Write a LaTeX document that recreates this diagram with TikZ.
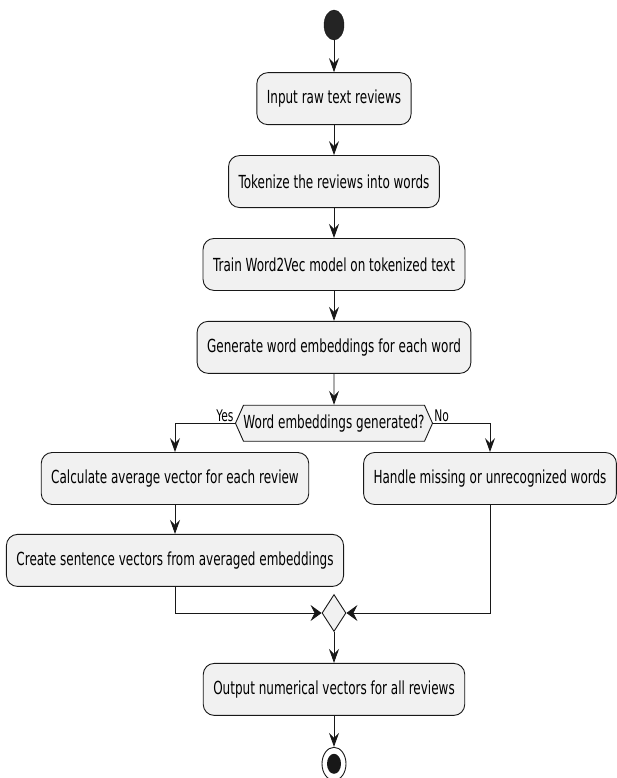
\documentclass[tikz,border=0pt]{standalone}
\usepackage{fontspec}
\setmainfont{DejaVu Sans}[FakeStretch=0.667]
\usetikzlibrary{arrows.meta,positioning,shapes.geometric,shapes.symbols}

\definecolor{actfill}{HTML}{F1F1F1}
\definecolor{actline}{HTML}{181818}

\begin{document}
\begin{tikzpicture}[
  x=1pt, y=1pt,
  font=\fontsize{18}{20}\selectfont,
  node distance=30pt,
  box/.style={draw=actline, fill=actfill, line width=0.9pt, rounded corners=11pt, align=center, inner xsep=10pt, minimum height=52pt},
  decision/.style={draw=actline, fill=actfill, line width=0.9pt, signal, signal to=west and east, signal pointer angle=132, inner xsep=0pt, inner ysep=0pt, minimum height=36pt},
  merge/.style={draw=actline, fill=actfill, line width=0.9pt, diamond, inner sep=0pt, minimum width=24pt, minimum height=37pt},
  startdot/.style={ellipse, fill=actline!95, draw=actline, inner sep=0pt, minimum width=20pt, minimum height=30pt},
  enddot/.style={ellipse, fill=white, draw=actline, line width=0.9pt, inner sep=0pt, minimum width=24pt, minimum height=33pt},
  label/.style={font=\fontsize{16}{18}\selectfont, inner sep=1pt},
  arrow/.style={-{Stealth[length=14pt, width=10pt, inset=5pt]}, line width=0.9pt, draw=actline},
  harrow/.style={-{Stealth[length=11pt, width=16pt, inset=4pt]}, line width=0.9pt, draw=actline}
]
\useasboundingbox (0,0) rectangle (616,-778);

% Main column
\node[startdot] (start) at (334,-25) {};
\node[box, below=32pt of start] (input) {Input raw text reviews};
\node[box, below=of input] (tokenize) {Tokenize the reviews into words};
\node[box, below=of tokenize] (train) {Train Word2Vec model on tokenized text};
\node[box, below=of train] (generate) {Generate word embeddings for each word};
\node[decision, below=31pt of generate] (check) {Word embeddings generated?};

% Branches
\node[box] (average) at (175,-478.5) {Calculate average vector for each review};
\node[box, below=29pt of average] (sentence) {Create sentence vectors from averaged embeddings};
\node[box] (handle) at (490,-478.5) {Handle missing or unrecognized words};

\node[merge] (join) at (334,-613) {};
\node[box, below=31pt of join] (output) {Output numerical vectors for all reviews};
\node[enddot, below=31pt of output] (finish) {};
\node[ellipse, fill=actline, inner sep=0pt, minimum width=14pt, minimum height=20pt] (finishdot) at (finish) {};

% Connections
\draw[arrow] (start) -- (input);
\draw[arrow] (input) -- (tokenize);
\draw[arrow] (tokenize) -- (train);
\draw[arrow] (train) -- (generate);
\draw[arrow] (generate) -- (check);

\draw[arrow] (check.west) -| node[pos=0, above left, label] {Yes} (average.north);
\draw[arrow] (check.east) -| node[pos=0, above right, label] {No} (handle.north);
\draw[arrow] (average) -- (sentence);

\draw[harrow] (sentence.south) |- (join.west);
\draw[harrow] (handle.south) |- (join.east);

\draw[arrow] (join) -- (output);
\draw[arrow] (output) -- (finish);

\end{tikzpicture}
\end{document}
